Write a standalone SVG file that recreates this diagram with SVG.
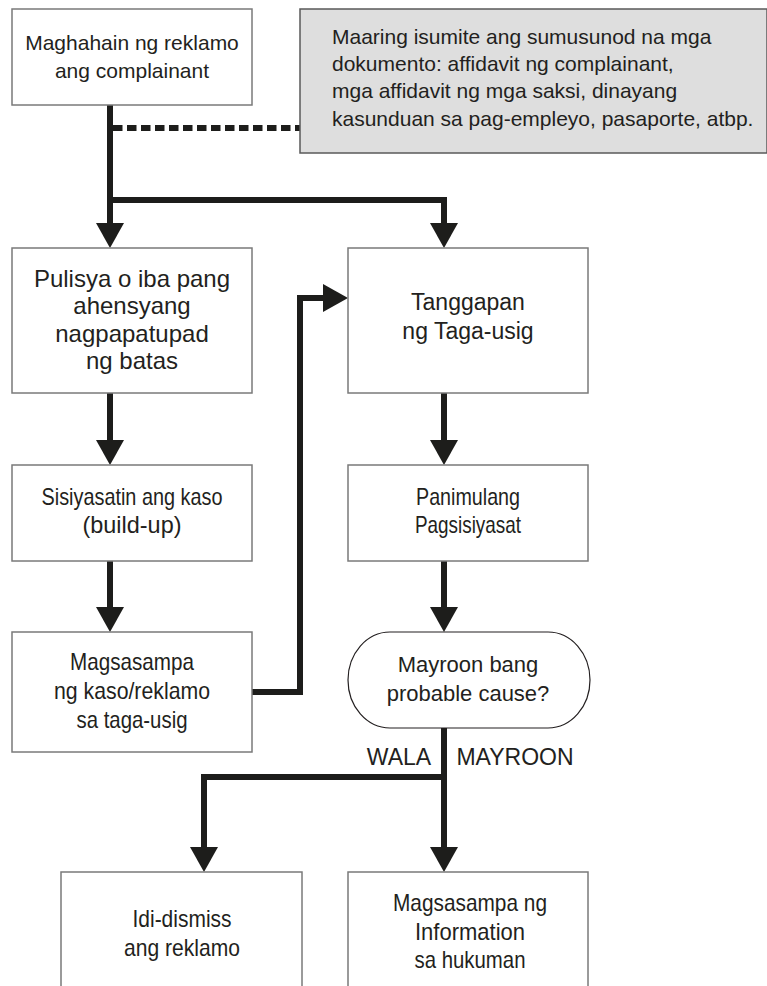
<svg xmlns="http://www.w3.org/2000/svg" width="767" height="986" viewBox="0 0 767 986">
<defs>
<style>
.box{fill:#ffffff;stroke:#7a7a7a;stroke-width:1.5}
.note{fill:#dedede;stroke:#5a5a5a;stroke-width:1.5}
.dec{fill:#ffffff;stroke:#231f20;stroke-width:1.2}
.t{font-family:"Liberation Sans",Arial,sans-serif;fill:#231f20;text-anchor:middle}
.tl{font-family:"Liberation Sans",Arial,sans-serif;fill:#231f20;font-size:21px}
.c{font-family:"Liberation Sans",Arial,sans-serif;fill:#231f20;text-anchor:middle;font-size:24px}
.ln{fill:none;stroke:#1d1d1b;stroke-width:6;stroke-linejoin:miter}
.ah{fill:#1d1d1b}
</style>
</defs>

<g id="connectors">
<path class="ln" d="M110,105 V226"/>
<path class="ln" d="M107,200 H444 V226"/>
<path class="ln" d="M113,128 H300" stroke-dasharray="9.5 4.5"/>
<path class="ln" d="M110,393 V442"/>
<path class="ln" d="M110,561 V609"/>
<path class="ln" d="M252,692 H300 V298 H325"/>
<path class="ln" d="M444,393 V442"/>
<path class="ln" d="M444,561 V609"/>
<path class="ln" d="M444,728 V850"/>
<path class="ln" d="M447,777 H204 V850"/>
<polygon class="ah" points="96,223 124,223 110,248"/>
<polygon class="ah" points="430,223 458,223 444,248"/>
<polygon class="ah" points="96,440 124,440 110,465"/>
<polygon class="ah" points="96,607 124,607 110,632"/>
<polygon class="ah" points="430,440 458,440 444,465"/>
<polygon class="ah" points="430,607 458,607 444,632"/>
<polygon class="ah" points="323,284 323,312 348,298"/>
<polygon class="ah" points="190,847 218,847 204,872"/>
<polygon class="ah" points="430,847 458,847 444,872"/>
</g>

<g id="n1">
<rect class="box" x="12" y="9" width="240" height="96"/>
<text class="t" font-size="21" x="132" y="50">Maghahain ng reklamo</text>
<text class="t" font-size="21" x="132" y="78">ang complainant</text>
</g>

<g id="note">
<rect class="note" x="300" y="9" width="467" height="144"/>
<text class="tl" x="332" y="44">Maaring isumite ang sumusunod na mga</text>
<text class="tl" x="332" y="71">dokumento: affidavit ng complainant,</text>
<text class="tl" x="332" y="98">mga affidavit ng mga saksi, dinayang</text>
<text class="tl" x="332" y="126">kasunduan sa pag-empleyo, pasaporte, atbp.</text>
</g>

<g id="n2">
<rect class="box" x="12" y="248" width="240" height="145"/>
<text class="t" font-size="24" x="132" y="287">Pulisya o iba pang</text>
<text class="t" font-size="24" x="132" y="314">ahensyang</text>
<text class="t" font-size="24" x="132" y="342">nagpapatupad</text>
<text class="t" font-size="24" x="132" y="369">ng batas</text>
</g>

<g id="n3">
<rect class="box" x="348" y="248" width="240" height="145"/>
<text class="t" font-size="23" x="468" y="310">Tanggapan</text>
<text class="t" font-size="23" x="468" y="339">ng Taga-usig</text>
</g>

<g id="n4">
<rect class="box" x="12" y="465" width="240" height="96"/>
<text class="c" x="132" y="505" textLength="181" lengthAdjust="spacingAndGlyphs">Sisiyasatin ang kaso</text>
<text class="c" x="132" y="533" textLength="99" lengthAdjust="spacingAndGlyphs">(build-up)</text>
</g>

<g id="n5">
<rect class="box" x="348" y="465" width="240" height="96"/>
<text class="c" x="468" y="505" textLength="104" lengthAdjust="spacingAndGlyphs">Panimulang</text>
<text class="c" x="468" y="533" textLength="106" lengthAdjust="spacingAndGlyphs">Pagsisiyasat</text>
</g>

<g id="n6">
<rect class="box" x="12" y="632" width="240" height="120"/>
<text class="c" x="132" y="670" textLength="124" lengthAdjust="spacingAndGlyphs">Magsasampa</text>
<text class="c" x="132" y="699" textLength="156" lengthAdjust="spacingAndGlyphs">ng kaso/reklamo</text>
<text class="c" x="132" y="728" textLength="111" lengthAdjust="spacingAndGlyphs">sa taga-usig</text>
</g>

<g id="n7">
<rect class="dec" x="348" y="632" width="242" height="96" rx="42" ry="48"/>
<text class="t" font-size="22" x="468" y="672">Mayroon bang</text>
<text class="t" font-size="22" x="468" y="701">probable cause?</text>
</g>

<g id="labels">
<text class="t" font-size="23" x="399" y="765">WALA</text>
<text class="t" font-size="23" x="515" y="765">MAYROON</text>
</g>

<g id="n8">
<rect class="box" x="61" y="872" width="241" height="120"/>
<text class="c" x="182" y="927" textLength="99" lengthAdjust="spacingAndGlyphs">Idi-dismiss</text>
<text class="c" x="182" y="956" textLength="116" lengthAdjust="spacingAndGlyphs">ang reklamo</text>
</g>

<g id="n9">
<rect class="box" x="348" y="872" width="240" height="120"/>
<text class="c" x="470" y="911" textLength="154" lengthAdjust="spacingAndGlyphs">Magsasampa ng</text>
<text class="c" x="470" y="940" textLength="110" lengthAdjust="spacingAndGlyphs">Information</text>
<text class="c" x="470" y="968" textLength="111" lengthAdjust="spacingAndGlyphs">sa hukuman</text>
</g>
</svg>
